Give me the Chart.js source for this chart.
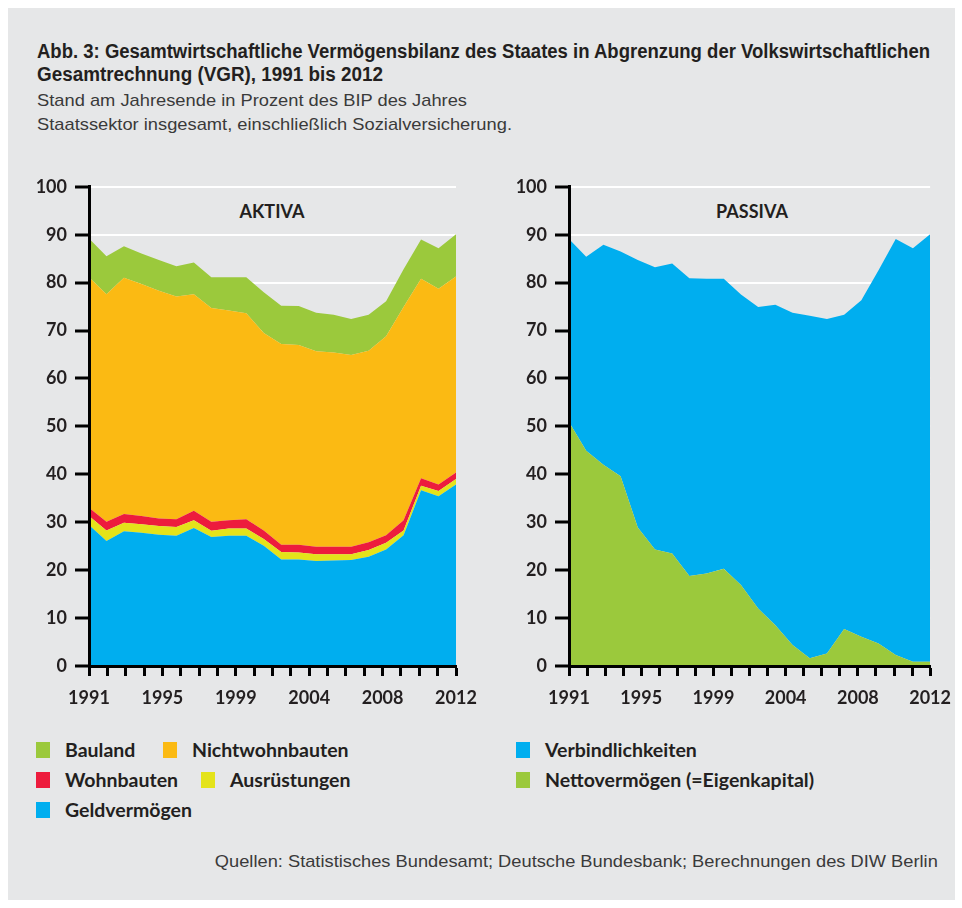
<!DOCTYPE html>
<html>
<head>
<meta charset="utf-8">
<script src="https://cdn.jsdelivr.net/npm/chart.js@4.4.1/dist/chart.umd.min.js"></script>
<style>
  html, body { margin: 0; padding: 0; background: #ffffff; }
  body { width: 962px; height: 908px; position: relative; overflow: hidden; }
  #panel { position: absolute; left: 8px; top: 8px; width: 947px; height: 892px; background: #e6e7e8; }
  .abs { position: absolute; white-space: nowrap; color: #231f20; }
  .title { font-family: "Liberation Sans", Arial, sans-serif; font-weight: bold; font-size: 20px; line-height: 23px; transform-origin: left center; }
  .sub { font-family: "Liberation Sans", Arial, sans-serif; font-size: 17px; line-height: 24px; color: #3a3a3a; transform-origin: left center; }
  .ptitle { font-family: Lato, "Open Sans", sans-serif; font-weight: bold; font-size: 18px; }
  .leg { font-family: Lato, "Open Sans", sans-serif; font-weight: bold; font-size: 19.5px; line-height: 20px; display: flex; align-items: center; }
  .sw { width: 14px; height: 16px; display: inline-block; margin-right: 15px; }
  .src { font-family: "Liberation Sans", Arial, sans-serif; font-size: 17px; line-height: 20px; color: #3a3a3a; transform-origin: right center; }
  canvas { position: absolute; }
</style>
</head>
<body>
<div id="panel"></div>
<div class="abs title" data-w="893" style="left:37px; top:40px;">Abb. 3: Gesamtwirtschaftliche Vermögensbilanz des Staates in Abgrenzung der Volkswirtschaftlichen</div>
<div class="abs title" data-w="346" style="left:37px; top:63px;">Gesamtrechnung (VGR), 1991 bis 2012</div>
<div class="abs sub" data-w="430" style="left:37px; top:89px;">Stand am Jahresende in Prozent des BIP des Jahres</div>
<div class="abs sub" data-w="475" style="left:37px; top:113px;">Staatssektor insgesamt, einschließlich Sozialversicherung.</div>
<div class="abs ptitle" style="left:272px; top:200px; transform:translateX(-50%);">AKTIVA</div>
<div class="abs ptitle" style="left:752px; top:200px; transform:translateX(-50%);">PASSIVA</div>
<canvas id="cLeft" width="480" height="542" style="left:20px; top:168px;"></canvas>
<canvas id="cRight" width="462" height="542" style="left:500px; top:168px;"></canvas>
<div class="abs src" data-w="723" style="right:24px; top:852px;">Quellen: Statistisches Bundesamt; Deutsche Bundesbank; Berechnungen des DIW Berlin</div>

<script>
// ---- Data (percent of GDP, end of year) ----
const years = [1991, 1992, 1993, 1994, 1995, 1996, 1997, 1998, 1999, 2000, 2001,
               2002, 2003, 2004, 2005, 2006, 2007, 2008, 2009, 2010, 2011, 2012];

// AKTIVA (stacked from bottom)
const geldvermoegen   = [29.4, 26.1, 28.1, 27.8, 27.4, 27.2, 28.8, 26.9, 27.2, 27.2, 25.1, 22.2, 22.2, 21.9, 22.0, 22.1, 22.8, 24.3, 27.3, 36.7, 35.4, 37.9];
const ausruestungen   = [1.9, 2.2, 1.8, 1.8, 1.8, 1.8, 1.6, 1.3, 1.5, 1.5, 1.4, 1.6, 1.5, 1.4, 1.3, 1.2, 1.4, 1.4, 1.0, 0.9, 1.1, 1.1];
const wohnbauten      = [1.7, 1.8, 1.8, 1.7, 1.6, 1.6, 2.0, 1.9, 1.7, 1.9, 1.8, 1.5, 1.6, 1.6, 1.6, 1.6, 1.6, 1.6, 2.1, 1.6, 1.4, 1.4];
const nichtwohnbauten = [48.1, 47.5, 49.3, 48.4, 47.5, 46.5, 45.2, 44.6, 43.8, 43.0, 41.2, 41.9, 41.7, 40.8, 40.5, 40.0, 40.0, 41.5, 44.5, 41.6, 40.8, 40.9];
const bauland         = [8.1, 7.9, 6.6, 6.4, 6.4, 6.3, 6.6, 6.4, 6.9, 7.5, 8.5, 8.0, 8.1, 8.0, 7.9, 7.5, 7.5, 7.3, 7.9, 8.2, 8.5, 8.8];

// PASSIVA (stacked from bottom)
const nettovermoegen    = [50.9, 44.9, 42.0, 39.6, 28.9, 24.3, 23.5, 18.8, 19.3, 20.3, 16.9, 12.0, 8.5, 4.4, 1.6, 2.6, 7.7, 6.1, 4.7, 2.3, 0.9, 0.9];
const verbindlichkeiten = [38.2, 40.5, 45.9, 46.9, 55.8, 58.9, 60.5, 62.1, 61.5, 60.5, 60.6, 62.9, 66.9, 69.3, 71.5, 69.8, 65.6, 70.2, 77.9, 86.8, 86.3, 89.2];

// Axis tick labels
const xTickLabels = ['1991', '1995', '1999', '2004', '2008', '2012'];
const yMin = 0, yMax = 100, yStep = 10;

// ---- Styling ----
const C = {
  blue: '#00aeef', green: '#9bc93c', orange: '#fbba13', red: '#ed1c3d', yellow: '#e4e31a'
};
const TEXT = '#231f20';
const tickFont = { family: 'Lato, "Open Sans", sans-serif', size: 18, weight: 'bold' };

// fit condensed-looking text lines to their measured widths in the reference
document.querySelectorAll('[data-w]').forEach(el => {
  const w = el.getBoundingClientRect().width;
  el.style.transform = 'scaleX(' + (parseFloat(el.dataset.w) / w) + ')';
});

function series(label, values, color, fill) {
  return {
    label, data: years.map((yr, i) => ({ x: yr, y: values[i] })),
    backgroundColor: color, borderColor: color, borderWidth: 0,
    pointRadius: 0, pointHoverRadius: 0, fill, tension: 0
  };
}

function makeOptions(padRight) {
  return {
    responsive: false, animation: false, devicePixelRatio: 1,
    layout: { padding: { top: 12, right: padRight, bottom: 0, left: 0 } },
    plugins: { legend: { display: false }, tooltip: { enabled: false }, title: { display: false } },
    scales: {
      x: {
        type: 'linear', min: years[0], max: years[years.length - 1],
        afterBuildTicks: (scale) => {
          // 21 evenly spaced tick marks between first and last year, labels on every 4th
          const n = 20, span = scale.max - scale.min;
          const t = [];
          for (let i = 0; i <= n; i++) t.push({ value: scale.min + span * i / n });
          scale.ticks = t;
        },
        afterFit: (scale) => { scale.height = 44; },
        ticks: {
          autoSkip: false, maxRotation: 0, padding: 11, color: TEXT, font: tickFont,
          callback: (v, i) => (i % 4 === 0 ? xTickLabels[i / 4] : '')
        },
        grid: { drawOnChartArea: false, drawTicks: true, tickLength: 10, tickColor: '#000', tickWidth: 3, color: '#000' },
        border: { display: true, color: '#000', width: 3, z: 1 }
      },
      y: {
        stacked: true, min: yMin, max: yMax,
        afterFit: (scale) => { scale.width = 69; },
        ticks: { stepSize: yStep, padding: 8, color: TEXT, font: tickFont },
        grid: { color: '#ffffff', lineWidth: 2, drawTicks: true, tickLength: 14, tickColor: '#000', tickWidth: 3 },
        border: { display: true, color: '#000', width: 3, z: 1 }
      }
    }
  };
}

const leftSets = [
  series('Geldvermögen', geldvermoegen, C.blue, 'origin'),
  series('Ausrüstungen', ausruestungen, C.yellow, '-1'),
  series('Wohnbauten', wohnbauten, C.red, '-1'),
  series('Nichtwohnbauten', nichtwohnbauten, C.orange, '-1'),
  series('Bauland', bauland, C.green, '-1')
];
const rightSets = [
  series('Nettovermögen (=Eigenkapital)', nettovermoegen, C.green, 'origin'),
  series('Verbindlichkeiten', verbindlichkeiten, C.blue, '-1')
];

new Chart(document.getElementById('cLeft'), { type: 'line', data: { datasets: leftSets }, options: makeOptions(44) });
new Chart(document.getElementById('cRight'), { type: 'line', data: { datasets: rightSets }, options: makeOptions(25) });

// ---- HTML legends built from the datasets ----
function legendItem(ds, left, top) {
  const d = document.createElement('div');
  d.className = 'abs leg';
  d.style.left = left + 'px'; d.style.top = top + 'px';
  d.innerHTML = '<span class="sw" style="background:' + ds.backgroundColor + '"></span>' + ds.label;
  document.body.appendChild(d);
}
const byLabel = (arr, l) => arr.find(d => d.label === l);
legendItem(byLabel(leftSets, 'Bauland'), 36, 740);
legendItem(byLabel(leftSets, 'Nichtwohnbauten'), 163, 740);
legendItem(byLabel(leftSets, 'Wohnbauten'), 36, 770);
legendItem(byLabel(leftSets, 'Ausrüstungen'), 201, 770);
legendItem(byLabel(leftSets, 'Geldvermögen'), 36, 800);
legendItem(byLabel(rightSets, 'Verbindlichkeiten'), 516, 740);
legendItem(byLabel(rightSets, 'Nettovermögen (=Eigenkapital)'), 516, 770);
</script>
</body>
</html>
